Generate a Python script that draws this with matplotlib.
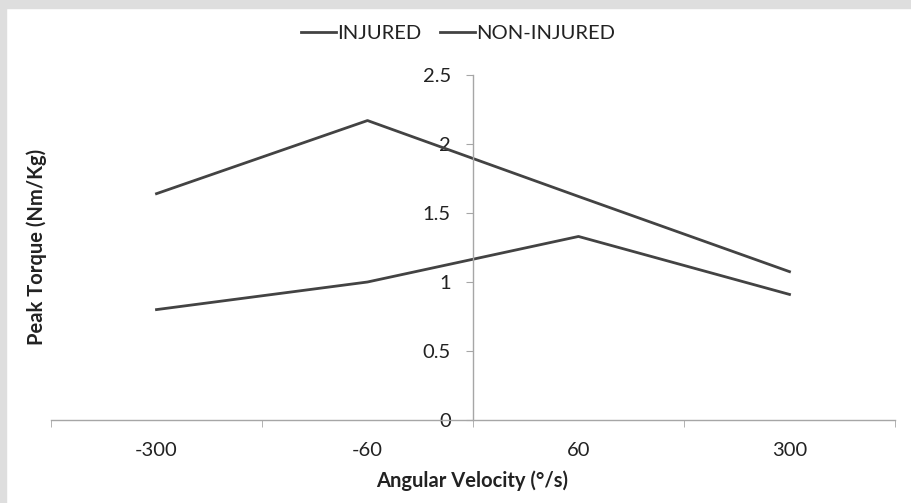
import numpy as np
import matplotlib
matplotlib.use('Agg')

import matplotlib.pyplot as plt
from matplotlib.patches import Rectangle


categories = ['-300', '-60', '60', '300']
injured = [0.80, 1.00, 1.33, 0.91]
non_injured = [1.64, 2.17, 1.62, 1.075]
y_ticks = [0, 0.5, 1, 1.5, 2, 2.5]
y_tick_labels = ['0', '0.5', '1', '1.5', '2', '2.5']

LINE_COLOR = '#434343'
AXIS_COLOR = '#a6a6a6'
TEXT_COLOR = '#222222'
FS = 14.5

plt.rcParams['font.family'] = ['Lato', 'DejaVu Sans']

fig = plt.figure(figsize=(9.12, 5.03), dpi=100)
fig.patch.set_facecolor('white')

# gray band on top and left like the source screenshot
fig.patches.append(Rectangle((0, 1 - 8 / 503), 1, 8 / 503, transform=fig.transFigure,
                             color='#dedede', zorder=0))
fig.patches.append(Rectangle((0, 0), 6 / 912, 1, transform=fig.transFigure,
                             color='#dedede', zorder=0))

ax = fig.add_axes([51 / 912, 83 / 503, 844 / 912, 345 / 503])

x = np.arange(len(categories))
ax.plot(x, injured, color=LINE_COLOR, lw=2.0, label='INJURED')
ax.plot(x, non_injured, color=LINE_COLOR, lw=2.0, label='NON-INJURED')

ax.set_xlim(-0.5, len(categories) - 0.5)
ax.set_ylim(0, 2.5)

for side in ['top', 'right']:
    ax.spines[side].set_visible(False)
ax.spines['left'].set_position(('data', 1.5))
ax.spines['left'].set_color(AXIS_COLOR)
ax.spines['bottom'].set_color(AXIS_COLOR)
ax.spines['left'].set_linewidth(1.0)
ax.spines['bottom'].set_linewidth(1.0)

ax.set_xticks(x)
ax.set_xticklabels(categories)
ax.set_xticks(np.arange(-0.5, len(categories)), minor=True)
ax.tick_params(axis='x', which='major', length=0, pad=16, labelsize=FS, colors=TEXT_COLOR)
ax.tick_params(axis='x', which='minor', length=5, direction='out', color=AXIS_COLOR)

ax.set_yticks(y_ticks)
ax.set_yticklabels(y_tick_labels)
ax.tick_params(axis='y', which='major', length=5, direction='out', color=AXIS_COLOR,
               pad=11, labelsize=FS, labelcolor=TEXT_COLOR)

fig.text(472 / 912, 1 - 481 / 503, 'Angular Velocity (°/s)', ha='center', va='center',
         fontsize=FS, fontweight='bold', color=TEXT_COLOR)
fig.text(37 / 912, 1 - 247 / 503, 'Peak Torque (Nm/Kg)', ha='center', va='center',
         rotation=90, fontsize=FS, fontweight='bold', color=TEXT_COLOR)

fig.legend(loc='center', bbox_to_anchor=(458 / 912, 1 - 33 / 503), ncol=2, frameon=False,
           fontsize=FS, handlelength=1.75, handletextpad=0.05, columnspacing=0.9,
           labelcolor=TEXT_COLOR)

fig.savefig('out.png', dpi=100)
plt.close()
